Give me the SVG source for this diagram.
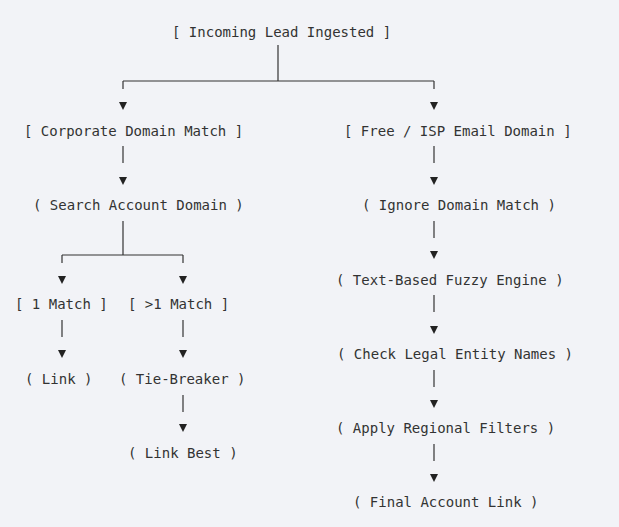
<svg xmlns="http://www.w3.org/2000/svg" width="619" height="527" viewBox="0 0 619 527">
<style>
text{font-family:"DejaVu Sans Mono","Liberation Mono",monospace;font-size:14px;fill:#333;white-space:pre}
.c line{stroke:#333;stroke-width:1.2}
.c polygon{fill:#222}
</style>
<rect width="619" height="527" fill="#f2f3f7"/>
<g class="c" id="connectors">
<line x1="278" y1="45" x2="278" y2="81"/>
<line x1="123" y1="81" x2="434" y2="81"/>
<line x1="123" y1="81" x2="123" y2="89"/>
<line x1="434" y1="81" x2="434" y2="89"/>
<polygon points="119,102 127,102 123,110"/>
<polygon points="430,102 438,102 434,110"/>
<line x1="123" y1="146" x2="123" y2="163"/>
<polygon points="119,177 127,177 123,185"/>
<line x1="123" y1="221" x2="123" y2="255"/>
<line x1="62" y1="255" x2="183" y2="255"/>
<line x1="62" y1="255" x2="62" y2="263"/>
<line x1="183" y1="255" x2="183" y2="263"/>
<polygon points="58,276 66,276 62,284"/>
<polygon points="179,276 187,276 183,284"/>
<line x1="62" y1="320" x2="62" y2="337"/>
<polygon points="58,350 66,350 62,358"/>
<line x1="183" y1="320" x2="183" y2="337"/>
<polygon points="179,350 187,350 183,358"/>
<line x1="183" y1="395" x2="183" y2="412"/>
<polygon points="179,424 187,424 183,432"/>
<line x1="434" y1="146" x2="434" y2="163"/>
<polygon points="430,177 438,177 434,185"/>
<line x1="434" y1="221" x2="434" y2="238"/>
<polygon points="430,251 438,251 434,259"/>
<line x1="434" y1="295" x2="434" y2="312"/>
<polygon points="430,326 438,326 434,334"/>
<line x1="434" y1="370" x2="434" y2="387"/>
<polygon points="430,400 438,400 434,408"/>
<line x1="434" y1="444" x2="434" y2="461"/>
<polygon points="430,474 438,474 434,482"/>
</g>
<g id="n-incoming"><text x="172" y="37">[ Incoming Lead Ingested ]</text></g>
<g id="n-corporate"><text x="24" y="136">[ Corporate Domain Match ]</text></g>
<g id="n-search"><text x="33" y="210">( Search Account Domain )</text></g>
<g id="n-one"><text x="15" y="309">[ 1 Match ]</text></g>
<g id="n-many"><text x="128" y="309">[ &gt;1 Match ]</text></g>
<g id="n-link"><text x="25" y="384">( Link )</text></g>
<g id="n-tie"><text x="119" y="384">( Tie-Breaker )</text></g>
<g id="n-linkbest"><text x="128" y="458">( Link Best )</text></g>
<g id="n-free"><text x="344" y="136">[ Free / ISP Email Domain ]</text></g>
<g id="n-ignore"><text x="362" y="210">( Ignore Domain Match )</text></g>
<g id="n-fuzzy"><text x="336" y="285">( Text-Based Fuzzy Engine )</text></g>
<g id="n-legal"><text x="337" y="359">( Check Legal Entity Names )</text></g>
<g id="n-regional"><text x="336" y="433">( Apply Regional Filters )</text></g>
<g id="n-final"><text x="353" y="507">( Final Account Link )</text></g>
</svg>
